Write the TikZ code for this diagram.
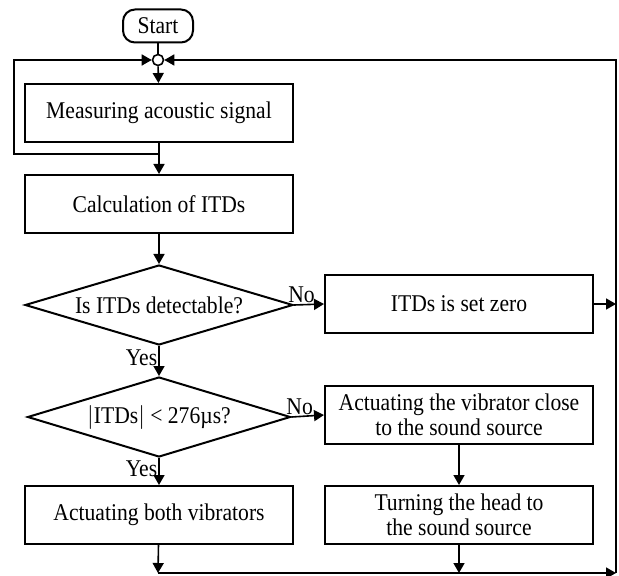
\documentclass[tikz,border=0pt]{standalone}
\usepackage{fontspec}
\setmainfont[FakeStretch=0.9]{Liberation Serif}
\usetikzlibrary{shapes.geometric,arrows.meta}

\tikzset{
  caja/.style={draw, line width=1pt, minimum width=134pt, minimum height=29pt, align=center, inner sep=1pt},
  decision/.style={draw, diamond, line width=1pt, minimum width=134pt, minimum height=40pt, aspect=3.35, inner sep=0pt},
  inicio/.style={draw, rounded corners=6pt, line width=1pt, minimum width=35pt, minimum height=16.5pt, inner sep=1pt},
  union/.style={circle, draw, line width=0.8pt, fill=white, inner sep=0pt, minimum size=5.5pt},
  flecha/.style={-{Triangle[length=5pt,width=5.5pt]}, line width=0.8pt},
  linea/.style={line width=0.8pt},
  etiqueta/.style={inner sep=0.5pt},
}

\begin{document}
\begin{tikzpicture}[x=0.5pt, y=-0.5pt, font=\fontsize{12}{12.5}\selectfont]
  \useasboundingbox (0,0) rectangle (619,576);

  % Inicio y punto de union
  \node[inicio] (start) at (158,26) {Start};
  \node[union] (nudo) at (158,60) {};

  % Columna izquierda
  \node[caja] (meas) at (159,113) {Measuring acoustic signal};
  \node[caja] (calc) at (159,204) {Calculation of ITDs};
  \node[decision] (det) at (159,305) {Is ITDs detectable?};
  \node[decision, minimum width=131.5pt] (umbral) at (159,417) {$|$ITDs$|$ < 276µs?};
  \node[caja] (both) at (159,515) {Actuating both vibrators};

  % Columna derecha
  \node[caja] (zero) at (459,304) {ITDs is set zero};
  \node[caja] (close) at (459,415) {Actuating the vibrator close\\to the sound source};
  \node[caja] (turn) at (459,515) {Turning the head to\\the sound source};

  % Puntos de paso de los lazos
  \coordinate (lazo) at (158,154);
  \coordinate (lazoA) at (14,154);
  \coordinate (lazoB) at (14,60);
  \coordinate (abajoI) at (158,573);
  \coordinate (abajoD) at (459,573);
  \coordinate (esquina) at (616,573);
  \coordinate (arriba) at (616,60);

  % Flujo principal
  \draw[linea] (start) -- (nudo);
  \draw[flecha] (nudo) -- (meas);
  \draw[flecha] (meas) -- (calc);
  \draw[flecha] (lazo) -- (lazoA) -- (lazoB) -- (nudo.west);
  \draw[flecha] (calc) -- (det);
  \draw[flecha] (det) -- node[pos=0.4, left, etiqueta] {Yes} (umbral);
  \draw[flecha] (det.east) -- node[pos=0.25, above, etiqueta] {No} (zero.west);
  \draw[flecha] (umbral) -- node[pos=0.4, left, etiqueta] {Yes} (both);
  \draw[flecha] (umbral.east) -- node[pos=0.25, above, etiqueta] {No} (close.west);
  \draw[flecha] (close) -- (turn);

  % Retorno al inicio
  \draw[flecha] (zero.east) -- (zero.east -| esquina);
  \draw[flecha] (both) -- (abajoI);
  \draw[flecha] (turn) -- (abajoD);
  \draw[flecha] (abajoI) -- (esquina);
  \draw[flecha] (esquina) -- (arriba) -- (nudo.east);
\end{tikzpicture}
\end{document}
